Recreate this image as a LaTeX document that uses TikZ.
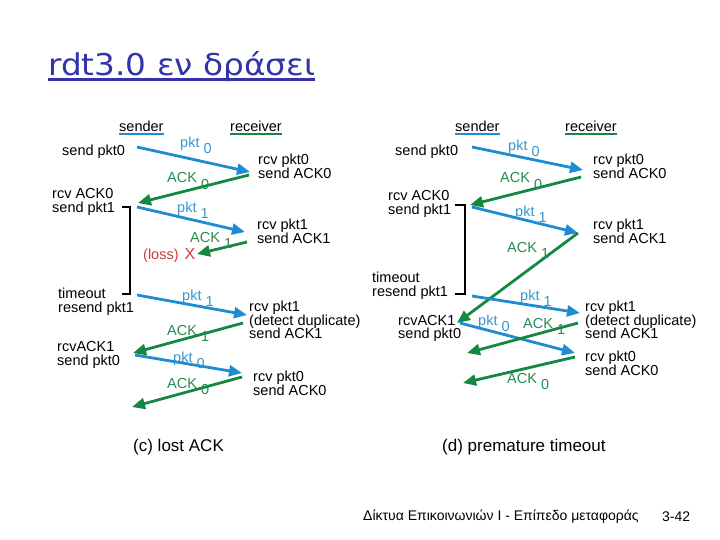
\documentclass[tikz,border=0pt]{standalone}
\usepackage{fontspec}
\setmainfont{Liberation Sans}
\newfontfamily\titlefont{DejaVu Sans}
\usetikzlibrary{arrows.meta}
\definecolor{pblue}{RGB}{30,140,210}
\definecolor{agreen}{RGB}{20,135,65}
\definecolor{plabc}{RGB}{55,150,205}
\definecolor{alabc}{RGB}{35,140,80}
\definecolor{lossred}{RGB}{200,60,60}
\definecolor{titleblue}{RGB}{50,50,170}
\newcommand\arlab[2]{#1\hspace{4pt}\raisebox{-6pt}{#2}}
\tikzset{
  txt/.style={font=\fontsize{14.5}{13.8}\selectfont, inner sep=0pt, align=left, anchor=west},
  captxt/.style={font=\fontsize{17}{17}\selectfont, inner sep=0pt, anchor=west},
  plab/.style={font=\fontsize{14.5}{14}\selectfont, inner sep=0pt, anchor=base west, text=plabc},
  alab/.style={font=\fontsize{14.5}{14}\selectfont, inner sep=0pt, anchor=base west, text=alabc},
  pktarrow/.style={draw=pblue, line width=2.8pt, -{Triangle[length=13pt,width=11pt]}},
  ackarrow/.style={draw=agreen, line width=2.8pt, -{Triangle[length=13pt,width=11pt]}},
  brk/.style={draw=black, line width=2.4pt},
  ulb/.style={draw=pblue, line width=2.4pt},
  ulg/.style={draw=agreen, line width=2.4pt}
}
\begin{document}
\begin{tikzpicture}[x=1pt,y=-1pt]
\useasboundingbox (0,0) rectangle (720,540);
% title
\node[inner sep=0pt, anchor=base west, text=titleblue, font=\titlefont\fontsize{30}{30}\selectfont] (title) at (48,76) {\scalebox{1.09}[1]{rdt3.0 εν δράσει}};
\draw[titleblue, line width=3pt] ([yshift=-4pt]title.base west) -- ([yshift=-4pt]title.base east);

% ---------------- left diagram (c) ----------------
\node[txt] (lsender) at (119,126) {sender};
\node[txt] (lreceiver) at (230,126) {receiver};
\draw[ulb] ([yshift=-3pt]lsender.base west) -- ([yshift=-3pt]lsender.base east);
\draw[ulg] ([yshift=-3pt]lreceiver.base west) -- ([yshift=-3pt]lreceiver.base east);

\node[txt] (lsend0) at (62,152) {send pkt0};
\node[txt] (lrcv0) at (258,166.5) {rcv pkt0\\send ACK0};
\node[txt] (lrcvack0) at (52,202) {rcv ACK0\\send pkt1};
\node[txt] (lrcv1) at (257,231.5) {rcv pkt1\\send ACK1};
\node[txt, text=lossred] (lloss) at (143,255) {(loss)\hspace{6pt}{\fontsize{16}{16}\selectfont X}};
\node[txt] (ltimeout) at (58,302) {timeout\\resend pkt1};
\node[txt] (lrcv1d) at (249,320) {rcv pkt1\\(detect duplicate)\\send ACK1};
\node[txt] (lrcvack1) at (57,355) {rcvACK1\\send pkt0};
\node[txt] (lrcv0b) at (253,383.5) {rcv pkt0\\send ACK0};
\node[captxt] (lcap) at (133,447) {(c) lost ACK};

\coordinate (la1s) at (137,147); \coordinate (la1e) at (250,172);
\coordinate (la2s) at (249,175); \coordinate (la2e) at (138,203);
\coordinate (la3s) at (137,207); \coordinate (la3e) at (245,232);
\coordinate (la4s) at (247,242); \coordinate (la4e) at (197,254);
\coordinate (la5s) at (137,295); \coordinate (la5e) at (247,315);
\coordinate (la6s) at (243,323); \coordinate (la6e) at (133,353);
\coordinate (la7s) at (135,355); \coordinate (la7e) at (242,373);
\coordinate (la8s) at (242,377); \coordinate (la8e) at (132,407);
\draw[pktarrow] (la1s) -- (la1e);
\draw[ackarrow] (la2s) -- (la2e);
\draw[pktarrow] (la3s) -- (la3e);
\draw[ackarrow] (la4s) -- (la4e);
\draw[pktarrow] (la5s) -- (la5e);
\draw[ackarrow] (la6s) -- (la6e);
\draw[pktarrow] (la7s) -- (la7e);
\draw[ackarrow] (la8s) -- (la8e);

\node[plab] (ll1) at (180,148) {\arlab{pkt}{0}};
\node[alab] (ll2) at (167,183) {\arlab{ACK}{0}};
\node[plab] (ll3) at (177,212) {\arlab{pkt}{1}};
\node[alab] (ll4) at (190,242) {\arlab{ACK}{1}};
\node[plab] (ll5) at (182,300) {\arlab{pkt}{1}};
\node[alab] (ll6) at (167,335) {\arlab{ACK}{1}};
\node[plab] (ll7) at (173,362) {\arlab{pkt}{0}};
\node[alab] (ll8) at (167,388) {\arlab{ACK}{0}};

\coordinate (lb1) at (122,207); \coordinate (lb2) at (130,207);
\coordinate (lb3) at (130,294); \coordinate (lb4) at (122,294);
\draw[brk] (lb1) -- (lb2) -- (lb3) -- (lb4);

% ---------------- right diagram (d) ----------------
\node[txt] (rsender) at (455,126) {sender};
\node[txt] (rreceiver) at (565,126) {receiver};
\draw[ulb] ([yshift=-3pt]rsender.base west) -- ([yshift=-3pt]rsender.base east);
\draw[ulg] ([yshift=-3pt]rreceiver.base west) -- ([yshift=-3pt]rreceiver.base east);

\node[txt] (rsend0) at (395,152) {send pkt0};
\node[txt] (rrcv0) at (593,166.5) {rcv pkt0\\send ACK0};
\node[txt] (rrcvack0) at (388,204) {rcv ACK0\\send pkt1};
\node[txt] (rrcv1) at (593,231.5) {rcv pkt1\\send ACK1};
\node[txt] (rtimeout) at (372,285.5) {timeout\\resend pkt1};
\node[txt] (rrcv1d) at (585,320) {rcv pkt1\\(detect duplicate)\\send ACK1};
\node[txt] (rrcvack1) at (398,328.5) {rcvACK1\\send pkt0};
\node[txt] (rrcv0b) at (585,363) {rcv pkt0\\send ACK0};
\node[captxt] (rcap) at (442,447) {(d) premature timeout};

\coordinate (ra1s) at (472,147); \coordinate (ra1e) at (583,170);
\coordinate (ra2s) at (581,177); \coordinate (ra2e) at (470,205);
\coordinate (ra3s) at (472,207); \coordinate (ra3e) at (578,233);
\coordinate (ra4s) at (578,233); \coordinate (ra4e) at (457,323);
\coordinate (ra5s) at (472,296); \coordinate (ra5e) at (580,313);
\coordinate (ra6s) at (460,323); \coordinate (ra6e) at (575,353);
\coordinate (ra7s) at (578,323); \coordinate (ra7e) at (467,353);
\coordinate (ra8s) at (575,357); \coordinate (ra8e) at (463,383);
\draw[pktarrow] (ra1s) -- (ra1e);
\draw[ackarrow] (ra2s) -- (ra2e);
\draw[pktarrow] (ra3s) -- (ra3e);
\draw[ackarrow] (ra4s) -- (ra4e);
\draw[pktarrow] (ra5s) -- (ra5e);
\draw[pktarrow] (ra6s) -- (ra6e);
\draw[ackarrow] (ra7s) -- (ra7e);
\draw[ackarrow] (ra8s) -- (ra8e);

\node[plab] (rl1) at (508,151) {\arlab{pkt}{0}};
\node[alab] (rl2) at (500,183) {\arlab{ACK}{0}};
\node[plab] (rl3) at (515,216) {\arlab{pkt}{1}};
\node[alab] (rl4) at (507,252) {\arlab{ACK}{1}};
\node[plab] (rl5) at (520,300) {\arlab{pkt}{1}};
\node[plab] (rl6) at (478,325) {\arlab{pkt}{0}};
\node[alab] (rl7) at (523,328) {\arlab{ACK}{1}};
\node[alab] (rl8) at (507,383) {\arlab{ACK}{0}};

\coordinate (rb1) at (455,205); \coordinate (rb2) at (465,205);
\coordinate (rb3) at (465,294); \coordinate (rb4) at (455,294);
\draw[brk] (rb1) -- (rb2) -- (rb3) -- (rb4);

% footer
\node[txt, font=\fontsize{14}{14}\selectfont] (foot) at (363,517) {Δίκτυα Επικοινωνιών Ι - Επίπεδο μεταφοράς};
\node[txt, font=\fontsize{14}{14}\selectfont] (pnum) at (662,517) {3-42};
\end{tikzpicture}
\end{document}
